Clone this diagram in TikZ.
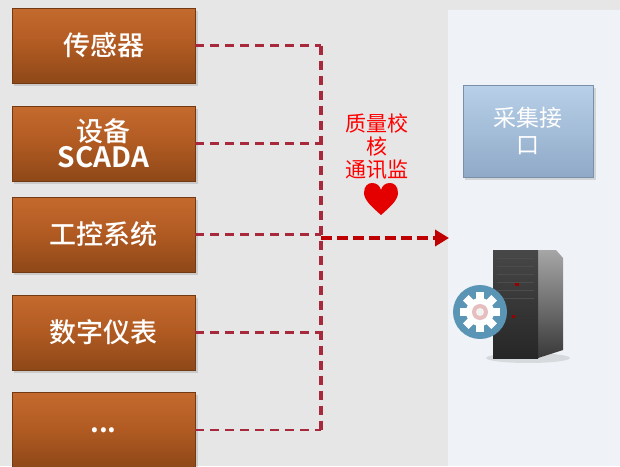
\documentclass[tikz,border=0pt]{standalone}
\usepackage{fontspec}
\newfontfamily\cjk{Noto Sans CJK SC}[BoldFont={Noto Sans CJK SC Bold}]
\newfontfamily\cjkmed{Noto Sans CJK SC Medium}
\usetikzlibrary{arrows.meta}
\definecolor{bgleft}{HTML}{E6E6E6}
\definecolor{bgright}{HTML}{EFF3F7}
\definecolor{orangetop}{HTML}{C46A2E}
\definecolor{orangemid}{HTML}{B05A22}
\definecolor{orangebot}{HTML}{8E4818}
\definecolor{linkred}{HTML}{A8283C}
\definecolor{arrowred}{HTML}{C00000}
\definecolor{bluetop}{HTML}{B8D0E8}
\definecolor{bluebot}{HTML}{8FA9C7}
\definecolor{gearblue}{HTML}{5A95B5}
\tikzset{
  srcbox/.style={rectangle, minimum width=183pt, minimum height=75pt,
    top color=orangetop, bottom color=orangebot, middle color=orangemid,
    draw=orangebot!80!black, line width=0.6pt,
    text=white, font=\cjkmed\fontsize{27}{30}\selectfont, align=center, inner sep=0pt},
  ifbox/.style={rectangle, minimum width=130pt, minimum height=92pt,
    top color=bluetop, bottom color=bluebot, draw=bluebot!85!black, line width=0.5pt,
    text=white, font=\cjk\fontsize{23}{27}\selectfont, align=center, inner sep=0pt},
  feed/.style={linkred, dash pattern=on 9pt off 6pt, line width=2.6pt},
  trunk/.style={linkred, dash pattern=on 9pt off 6pt, line width=3.4pt},
  mainarrow/.style={arrowred, dash pattern=on 11pt off 5pt, line width=4.5pt,
    -{Triangle[length=14pt,width=16pt]}},
}
\begin{document}
\begin{tikzpicture}[x=1pt,y=-1pt]
  \useasboundingbox (0,0) rectangle (620,466);
  % backgrounds
  \fill[bgleft] (0,0) rectangle (620,466);
  \fill[bgright] (448,10) rectangle (620,466);

  % source boxes with soft shadows
  \foreach \yy in {45.5,143.5,234.5,332.5,430}{
    \fill[black,opacity=0.12] (14,\yy-35) rectangle (198,\yy+40);
  }
  \node[srcbox] (s1) at (103.5,45.5) {传感器};
  \node[srcbox] (s2) at (103.5,143.5) {设备\\[-4pt]{\cjk\bfseries\fontsize{28}{30}\selectfont SCADA}};
  \node[srcbox] (s3) at (103.5,234.5) {工控系统};
  \node[srcbox] (s4) at (103.5,332.5) {数字仪表};
  \node[srcbox] (s5) at (103.5,430) {{\cjk\bfseries ...}};

  % collector bus
  \coordinate (b1) at (321,45.5);
  \coordinate (b2) at (321,143.5);
  \coordinate (b3) at (321,234.5);
  \coordinate (b4) at (321,332.5);
  \coordinate (b5) at (321,430);
  \coordinate (hub) at (321,238);
  \coordinate (gate) at (449,238);
  \draw[feed] (s1.east) -- (b1);
  \draw[feed] (s2.east) -- (b2);
  \draw[feed] (s3.east) -- (b3);
  \draw[feed] (s4.east) -- (b4);
  \draw[feed] (s5.east) -- (b5);
  \draw[trunk] (b1) -- (b5);
  \draw[mainarrow] (hub) -- (gate);

  % quality label and heart
  \node[text=red, font=\cjk\fontsize{21}{23}\selectfont, align=center] (qc) at (377,147) {质量校\\核\\通讯监};
  \fill[red!90!black] (381,215) .. controls (372,207) and (364,200) .. (364,193)
    .. controls (364,186) and (368,183) .. (372,183)
    .. controls (377,183) and (380,186) .. (381,190)
    .. controls (382,186) and (385,183) .. (390,183)
    .. controls (394,183) and (398,186) .. (398,193)
    .. controls (398,200) and (390,207) .. (381,215) -- cycle;

  % acquisition interface
  \fill[black,opacity=0.12] (465,88) rectangle (596,180);
  \node[ifbox] (acq) at (528,131) {采集接\\口};

  % server tower
  \fill[black,opacity=0.10] (528,358) ellipse (42pt and 5pt);
  \shade[top color=gray!70, bottom color=gray!45!black] (538,250) -- (556,250) -- (563,258) -- (563,350) -- (538,358) -- cycle;
  \shade[top color=black!72, bottom color=black!85] (493,250) rectangle (538,358);
  \foreach \yy in {258,266,274,282,290,298}{
    \draw[gray!60!black, line width=0.8pt] (497,\yy) -- (534,\yy);
  }
  \fill[red!60!black] (515,283) rectangle (519,286);
  \fill[red!60!black] (512,315) rectangle (515,318);

  % settings badge
  \fill[gearblue] (480,312) circle (27pt);
  \foreach \a in {0,45,...,315}{
    \fill[white, rotate around={\a:(480,312)}] (476,292) rectangle (484,300);
  }
  \fill[white] (480,312) circle (14pt);
  \fill[gray!55!red!35!white] (480,312) circle (8pt);
  \fill[white!90!gray] (480,312) circle (4pt);
\end{tikzpicture}
\end{document}
